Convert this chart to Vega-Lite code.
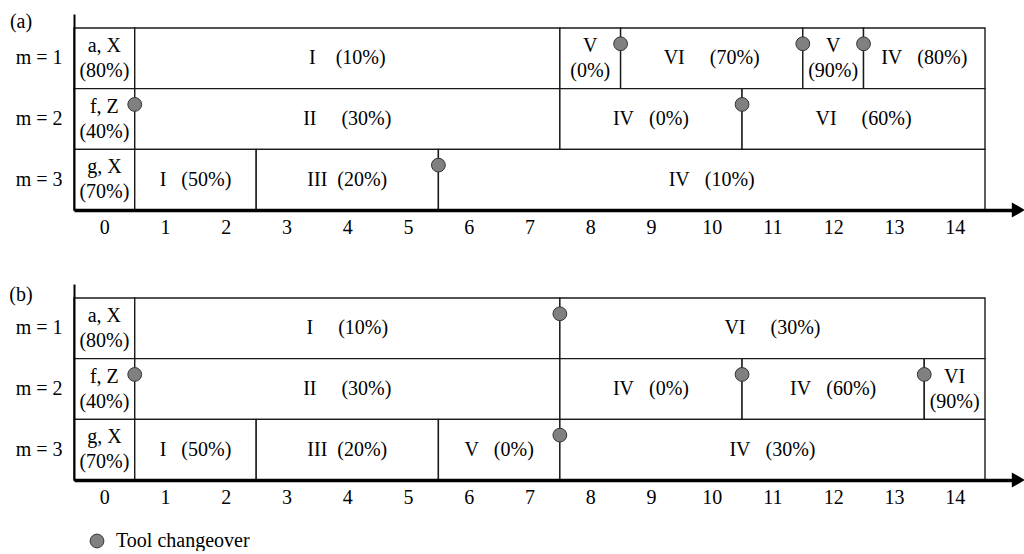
{
  "$schema": "https://vega.github.io/schema/vega-lite/v6.json",
  "padding": {"left": 9, "top": 12, "right": 0, "bottom": 0},
  "autosize": {"type": "pad"},
  "background": "white",
  "config": {"view": {"stroke": null}, "font": "Liberation Serif"},
  "datasets": {
    "seg": [
      {"panel": "(a)", "m": 1, "start": -0.5, "end": 0.5, "label": "a, X\n(80%)"},
      {"panel": "(a)", "m": 1, "start": 0.5, "end": 7.5, "label": "I\u00a0\u00a0\u00a0\u00a0(10%)"},
      {"panel": "(a)", "m": 1, "start": 7.5, "end": 8.5, "label": "V\n(0%)"},
      {"panel": "(a)", "m": 1, "start": 8.5, "end": 11.5, "label": "VI\u00a0\u00a0\u00a0\u00a0\u00a0(70%)"},
      {"panel": "(a)", "m": 1, "start": 11.5, "end": 12.5, "label": "V\n(90%)"},
      {"panel": "(a)", "m": 1, "start": 12.5, "end": 14.5, "label": "IV\u00a0\u00a0\u00a0(80%)"},
      {"panel": "(a)", "m": 2, "start": -0.5, "end": 0.5, "label": "f, Z\n(40%)"},
      {"panel": "(a)", "m": 2, "start": 0.5, "end": 7.5, "label": "II\u00a0\u00a0\u00a0\u00a0\u00a0(30%)"},
      {"panel": "(a)", "m": 2, "start": 7.5, "end": 10.5, "label": "IV\u00a0\u00a0\u00a0(0%)"},
      {"panel": "(a)", "m": 2, "start": 10.5, "end": 14.5, "label": "VI\u00a0\u00a0\u00a0\u00a0\u00a0(60%)"},
      {"panel": "(a)", "m": 3, "start": -0.5, "end": 0.5, "label": "g, X\n(70%)"},
      {"panel": "(a)", "m": 3, "start": 0.5, "end": 2.5, "label": "I\u00a0\u00a0\u00a0(50%)"},
      {"panel": "(a)", "m": 3, "start": 2.5, "end": 5.5, "label": "III\u00a0\u00a0(20%)"},
      {"panel": "(a)", "m": 3, "start": 5.5, "end": 14.5, "label": "IV\u00a0\u00a0\u00a0(10%)"},
      {"panel": "(b)", "m": 1, "start": -0.5, "end": 0.5, "label": "a, X\n(80%)"},
      {"panel": "(b)", "m": 1, "start": 0.5, "end": 7.5, "label": "I\u00a0\u00a0\u00a0\u00a0\u00a0(10%)"},
      {"panel": "(b)", "m": 1, "start": 7.5, "end": 14.5, "label": "VI\u00a0\u00a0\u00a0\u00a0\u00a0(30%)"},
      {"panel": "(b)", "m": 2, "start": -0.5, "end": 0.5, "label": "f, Z\n(40%)"},
      {"panel": "(b)", "m": 2, "start": 0.5, "end": 7.5, "label": "II\u00a0\u00a0\u00a0\u00a0\u00a0(30%)"},
      {"panel": "(b)", "m": 2, "start": 7.5, "end": 10.5, "label": "IV\u00a0\u00a0\u00a0(0%)"},
      {"panel": "(b)", "m": 2, "start": 10.5, "end": 13.5, "label": "IV\u00a0\u00a0\u00a0(60%)"},
      {"panel": "(b)", "m": 2, "start": 13.5, "end": 14.5, "label": "VI\n(90%)"},
      {"panel": "(b)", "m": 3, "start": -0.5, "end": 0.5, "label": "g, X\n(70%)"},
      {"panel": "(b)", "m": 3, "start": 0.5, "end": 2.5, "label": "I\u00a0\u00a0\u00a0(50%)"},
      {"panel": "(b)", "m": 3, "start": 2.5, "end": 5.5, "label": "III\u00a0\u00a0(20%)"},
      {"panel": "(b)", "m": 3, "start": 5.5, "end": 7.5, "label": "V\u00a0\u00a0\u00a0(0%)"},
      {"panel": "(b)", "m": 3, "start": 7.5, "end": 14.5, "label": "IV\u00a0\u00a0\u00a0(30%)"}
    ],
    "chg": [
      {"panel": "(a)", "m": 1, "t": 8.5},
      {"panel": "(a)", "m": 1, "t": 11.5},
      {"panel": "(a)", "m": 1, "t": 12.5},
      {"panel": "(a)", "m": 2, "t": 0.5},
      {"panel": "(a)", "m": 2, "t": 10.5},
      {"panel": "(a)", "m": 3, "t": 5.5},
      {"panel": "(b)", "m": 1, "t": 7.5},
      {"panel": "(b)", "m": 2, "t": 0.5},
      {"panel": "(b)", "m": 2, "t": 10.5},
      {"panel": "(b)", "m": 2, "t": 13.5},
      {"panel": "(b)", "m": 3, "t": 7.5}
    ],
    "panels": [{"panel": "(a)"}, {"panel": "(b)"}]
  },
  "spacing": 74,
  "bounds": "flush",
  "vconcat": [
    {
      "width": 943,
      "height": 196,
      "layer": [
        {
          "data": {"name": "seg"},
          "transform": [{"filter": "datum.panel === '(a)'"}],
          "mark": {"type": "rect", "fill": "white", "stroke": "#1a1a1a", "strokeWidth": 1.4},
          "encoding": {
            "x": {"field": "start", "type": "quantitative", "title": null,
              "scale": {"domain": [-0.5, 15.027], "nice": false, "zero": false},
              "axis": {"values": [0,0.5,1,1.5,2,2.5,3,3.5,4,4.5,5,5.5,6,6.5,7,7.5,8,8.5,9,9.5,10,10.5,11,11.5,12,12.5,13,13.5,14,14.5],
                "title": null, "grid": false, "zindex": 1,
                "domainColor": "black", "domainWidth": 3.5,
                "tickColor": "black", "tickWidth": 2, "tickSize": 14,
                "tickOpacity": {"condition": {"test": "datum.value % 1 === 0", "value": 0}, "value": 1},
                "labelExpr": "datum.value % 1 === 0 ? '' + datum.value : ''",
                "labelFont": "Liberation Serif", "labelFontSize": 20, "labelColor": "black",
                "labelPadding": -7, "labelFlush": false, "labelOverlap": false, "labelBound": false}},
            "x2": {"field": "end"},
            "y": {"field": "m", "type": "ordinal", "title": null,
              "scale": {"type": "band", "domain": [1, 2, 3], "paddingInner": 0, "paddingOuter": 0.1154, "align": 1},
              "axis": {"title": null, "ticks": false, "tickSize": 0, "grid": false, "zindex": 1,
                "domainColor": "black", "domainWidth": 2,
                "labelExpr": "'m = ' + datum.value", "labelAngle": 0,
                "labelFont": "Liberation Serif", "labelFontSize": 20, "labelColor": "black", "labelPadding": 12}}
          }
        },
        {
          "data": {"name": "seg"},
          "transform": [{"filter": "datum.panel === '(a)' && indexof(datum.label, '\\n') < 0"}, {"fold": ["start", "end"], "as": ["edge", "t"]}],
          "mark": {"type": "text", "font": "Liberation Serif", "fontSize": 20, "color": "black", "align": "center", "baseline": "middle"},
          "encoding": {
            "x": {"aggregate": "mean", "field": "t", "type": "quantitative", "title": null},
            "y": {"field": "m", "type": "ordinal", "title": null},
            "detail": {"field": "start"},
            "text": {"field": "label"}
          }
        },
        {
          "data": {"name": "seg"},
          "transform": [{"filter": "datum.panel === '(a)' && indexof(datum.label, '\\n') >= 0"}, {"fold": ["start", "end"], "as": ["edge", "t"]}],
          "mark": {"type": "text", "font": "Liberation Serif", "fontSize": 20, "color": "black", "align": "center", "baseline": "middle", "lineBreak": "\n", "lineHeight": 25, "dy": -12.5},
          "encoding": {
            "x": {"aggregate": "mean", "field": "t", "type": "quantitative", "title": null},
            "y": {"field": "m", "type": "ordinal", "title": null},
            "detail": {"field": "start"},
            "text": {"field": "label"}
          }
        },
        {
          "data": {"name": "chg"},
          "transform": [{"filter": "datum.panel === '(a)'"}],
          "mark": {"type": "point", "shape": "circle", "filled": true, "stroke": "#333333", "strokeWidth": 1, "size": 190, "opacity": 1},
          "encoding": {
            "x": {"field": "t", "type": "quantitative", "title": null},
            "y": {"field": "m", "type": "ordinal", "title": null, "bandPosition": 0.26},
            "fill": {"datum": "Tool changeover", "type": "nominal", "scale": {"range": ["#808080"]},
              "legend": {"title": null, "orient": "none", "legendX": 13, "legendY": 517, "padding": 0,
                "symbolType": "circle", "symbolSize": 190, "symbolStrokeColor": "#333333", "symbolStrokeWidth": 1, "symbolFillColor": "#808080",
                "labelFont": "Liberation Serif", "labelFontSize": 20, "labelColor": "black", "labelOffset": 9}}
          }
        },
        {
          "data": {"name": "panels"},
          "transform": [{"filter": "datum.panel === '(a)'"}],
          "mark": {"type": "text", "font": "Liberation Serif", "fontSize": 20, "color": "black", "align": "center", "baseline": "middle", "dy": -36},
          "encoding": {
            "x": {"datum": -1.373, "type": "quantitative"},
            "y": {"datum": 1, "type": "ordinal"},
            "text": {"field": "panel"}
          }
        },
        {
          "data": {"name": "panels"},
          "transform": [{"filter": "datum.panel === '(a)'"}],
          "mark": {"type": "point", "shape": "triangle-right", "filled": true, "color": "black", "size": 230, "opacity": 1},
          "encoding": {
            "x": {"datum": 15.05, "type": "quantitative"},
            "y": {"datum": 3, "type": "ordinal", "bandPosition": 1}
          }
        }
      ]
    },
    {
      "width": 943,
      "height": 196,
      "layer": [
        {
          "data": {"name": "seg"},
          "transform": [{"filter": "datum.panel === '(b)'"}],
          "mark": {"type": "rect", "fill": "white", "stroke": "#1a1a1a", "strokeWidth": 1.4},
          "encoding": {
            "x": {"field": "start", "type": "quantitative", "title": null,
              "scale": {"domain": [-0.5, 15.027], "nice": false, "zero": false},
              "axis": {"values": [0,0.5,1,1.5,2,2.5,3,3.5,4,4.5,5,5.5,6,6.5,7,7.5,8,8.5,9,9.5,10,10.5,11,11.5,12,12.5,13,13.5,14,14.5],
                "title": null, "grid": false, "zindex": 1,
                "domainColor": "black", "domainWidth": 3.5,
                "tickColor": "black", "tickWidth": 2, "tickSize": 14,
                "tickOpacity": {"condition": {"test": "datum.value % 1 === 0", "value": 0}, "value": 1},
                "labelExpr": "datum.value % 1 === 0 ? '' + datum.value : ''",
                "labelFont": "Liberation Serif", "labelFontSize": 20, "labelColor": "black",
                "labelPadding": -7, "labelFlush": false, "labelOverlap": false, "labelBound": false}},
            "x2": {"field": "end"},
            "y": {"field": "m", "type": "ordinal", "title": null,
              "scale": {"type": "band", "domain": [1, 2, 3], "paddingInner": 0, "paddingOuter": 0.1154, "align": 1},
              "axis": {"title": null, "ticks": false, "tickSize": 0, "grid": false, "zindex": 1,
                "domainColor": "black", "domainWidth": 2,
                "labelExpr": "'m = ' + datum.value", "labelAngle": 0,
                "labelFont": "Liberation Serif", "labelFontSize": 20, "labelColor": "black", "labelPadding": 12}}
          }
        },
        {
          "data": {"name": "seg"},
          "transform": [{"filter": "datum.panel === '(b)' && indexof(datum.label, '\\n') < 0"}, {"fold": ["start", "end"], "as": ["edge", "t"]}],
          "mark": {"type": "text", "font": "Liberation Serif", "fontSize": 20, "color": "black", "align": "center", "baseline": "middle"},
          "encoding": {
            "x": {"aggregate": "mean", "field": "t", "type": "quantitative", "title": null},
            "y": {"field": "m", "type": "ordinal", "title": null},
            "detail": {"field": "start"},
            "text": {"field": "label"}
          }
        },
        {
          "data": {"name": "seg"},
          "transform": [{"filter": "datum.panel === '(b)' && indexof(datum.label, '\\n') >= 0"}, {"fold": ["start", "end"], "as": ["edge", "t"]}],
          "mark": {"type": "text", "font": "Liberation Serif", "fontSize": 20, "color": "black", "align": "center", "baseline": "middle", "lineBreak": "\n", "lineHeight": 25, "dy": -12.5},
          "encoding": {
            "x": {"aggregate": "mean", "field": "t", "type": "quantitative", "title": null},
            "y": {"field": "m", "type": "ordinal", "title": null},
            "detail": {"field": "start"},
            "text": {"field": "label"}
          }
        },
        {
          "data": {"name": "chg"},
          "transform": [{"filter": "datum.panel === '(b)'"}],
          "mark": {"type": "point", "shape": "circle", "filled": true, "stroke": "#333333", "strokeWidth": 1, "size": 190, "opacity": 1},
          "encoding": {
            "x": {"field": "t", "type": "quantitative", "title": null},
            "y": {"field": "m", "type": "ordinal", "title": null, "bandPosition": 0.26},
            "fill": {"datum": "Tool changeover", "type": "nominal", "scale": {"range": ["#808080"]},
              "legend": {"title": null, "orient": "none", "legendX": 13, "legendY": 517, "padding": 0,
                "symbolType": "circle", "symbolSize": 190, "symbolStrokeColor": "#333333", "symbolStrokeWidth": 1, "symbolFillColor": "#808080",
                "labelFont": "Liberation Serif", "labelFontSize": 20, "labelColor": "black", "labelOffset": 9}}
          }
        },
        {
          "data": {"name": "panels"},
          "transform": [{"filter": "datum.panel === '(b)'"}],
          "mark": {"type": "text", "font": "Liberation Serif", "fontSize": 20, "color": "black", "align": "center", "baseline": "middle", "dy": -33},
          "encoding": {
            "x": {"datum": -1.373, "type": "quantitative"},
            "y": {"datum": 1, "type": "ordinal"},
            "text": {"field": "panel"}
          }
        },
        {
          "data": {"name": "panels"},
          "transform": [{"filter": "datum.panel === '(b)'"}],
          "mark": {"type": "point", "shape": "triangle-right", "filled": true, "color": "black", "size": 230, "opacity": 1},
          "encoding": {
            "x": {"datum": 15.05, "type": "quantitative"},
            "y": {"datum": 3, "type": "ordinal", "bandPosition": 1}
          }
        }
      ]
    }
  ]
}
